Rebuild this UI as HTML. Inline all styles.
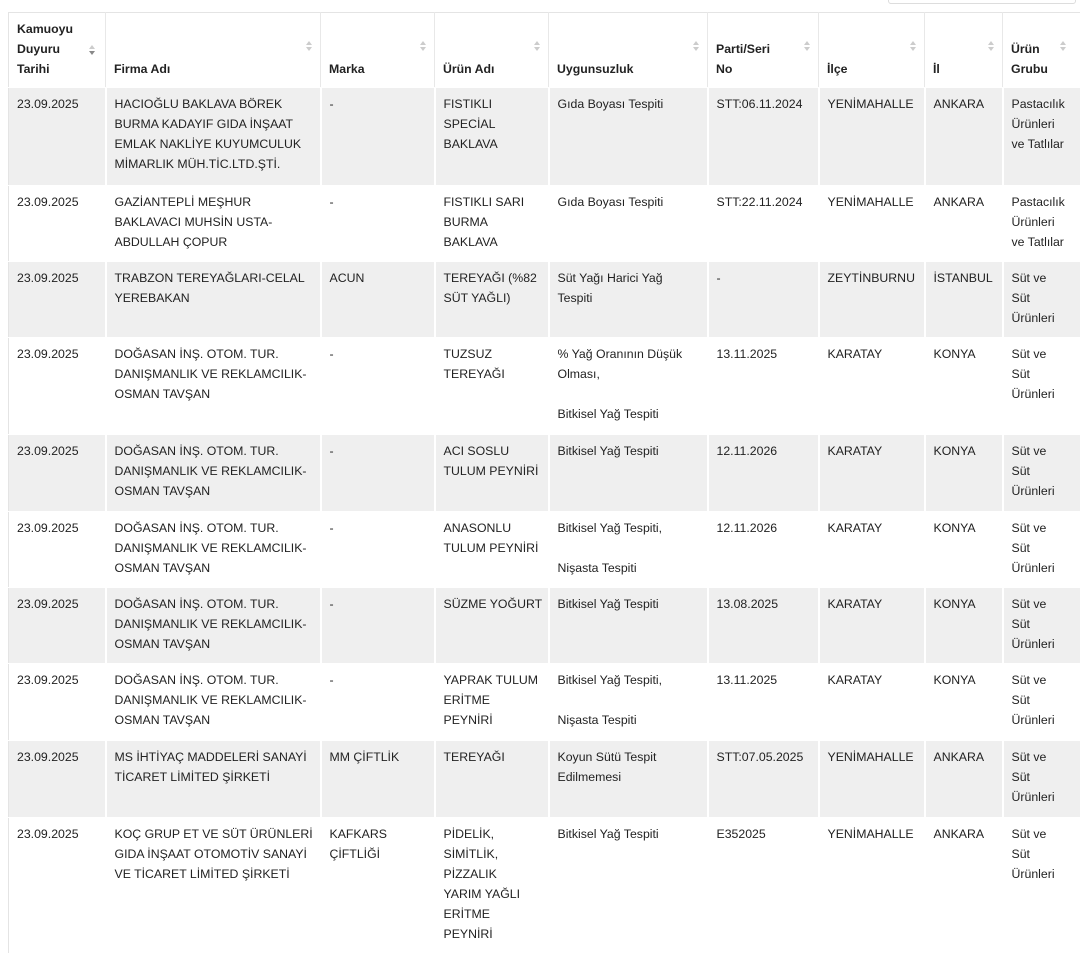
<!DOCTYPE html>
<html><head><meta charset="utf-8"><style>
body{margin:0;width:1080px;height:971px;background:#fff;overflow:hidden;position:relative;font-family:"Liberation Sans",sans-serif;color:#222;}
.search{position:absolute;left:888px;top:-8px;width:186px;height:10px;border:1px solid #ddd;border-radius:3px;}
table{position:absolute;left:8px;top:12px;border-collapse:collapse;table-layout:fixed;width:1090px;border-top:1px solid #e4e4e4;border-left:1px solid #e4e4e4;border-bottom:1px solid #e4e4e4}
td,th{font-size:12.3px;line-height:20px;padding:6px 8px 0 8px;vertical-align:top;text-align:left;border-right:2px solid #fff;border-bottom:1px solid #fff;letter-spacing:0;white-space:nowrap;overflow:hidden}
th{vertical-align:bottom;padding-bottom:8px;font-weight:bold;position:relative;background:#fff;color:#222;border-right:1px solid #e8e8e8}
th .s{position:absolute;right:8px;top:28px;width:6px;height:12px;}
th .s:before{content:"";position:absolute;left:0;top:0;border:3px solid transparent;border-bottom:4px solid #ccc;border-top:0}
th .s:after{content:"";position:absolute;left:0;top:6px;border:3px solid transparent;border-top:4px solid #ccc;border-bottom:0}
th .d:after{border-top-color:#888}
tr.g td{background:#efefef}
</style></head><body>
<div class="search"></div>
<table>
<colgroup><col style="width:97px"><col style="width:215px"><col style="width:114px"><col style="width:114px"><col style="width:159px"><col style="width:111px"><col style="width:106px"><col style="width:78px"><col style="width:96px"></colgroup>
<tr style="height:73px"><th>Kamuoyu<br>Duyuru<br>Tarihi<span class="s d" style="right:10px;top:32px"></span></th><th>Firma Adı<span class="s"></span></th><th>Marka<span class="s"></span></th><th>Ürün Adı<span class="s"></span></th><th>Uygunsuzluk<span class="s"></span></th><th>Parti/Seri<br>No<span class="s"></span></th><th>İlçe<span class="s"></span></th><th>İl<span class="s"></span></th><th>Ürün<br>Grubu<span class="s" style="right:32px"></span></th></tr>
<tr class="g" style="height:98px"><td>23.09.2025</td><td>HACIOĞLU BAKLAVA BÖREK<br>BURMA KADAYIF GIDA İNŞAAT<br>EMLAK NAKLİYE KUYUMCULUK<br>MİMARLIK MÜH.TİC.LTD.ŞTİ.</td><td>-</td><td>FISTIKLI<br>SPECİAL<br>BAKLAVA</td><td>Gıda Boyası Tespiti</td><td>STT:06.11.2024</td><td>YENİMAHALLE</td><td>ANKARA</td><td>Pastacılık<br>Ürünleri<br>ve Tatlılar</td></tr>
<tr style="height:76px"><td>23.09.2025</td><td>GAZİANTEPLİ MEŞHUR<br>BAKLAVACI MUHSİN USTA-<br>ABDULLAH ÇOPUR</td><td>-</td><td>FISTIKLI SARI<br>BURMA<br>BAKLAVA</td><td>Gıda Boyası Tespiti</td><td>STT:22.11.2024</td><td>YENİMAHALLE</td><td>ANKARA</td><td>Pastacılık<br>Ürünleri<br>ve Tatlılar</td></tr>
<tr class="g" style="height:76px"><td>23.09.2025</td><td>TRABZON TEREYAĞLARI-CELAL<br>YEREBAKAN</td><td>ACUN</td><td>TEREYAĞI (%82<br>SÜT YAĞLI)</td><td>Süt Yağı Harici Yağ<br>Tespiti</td><td>-</td><td>ZEYTİNBURNU</td><td>İSTANBUL</td><td>Süt ve<br>Süt<br>Ürünleri</td></tr>
<tr style="height:97px"><td>23.09.2025</td><td>DOĞASAN İNŞ. OTOM. TUR.<br>DANIŞMANLIK VE REKLAMCILIK-<br>OSMAN TAVŞAN</td><td>-</td><td>TUZSUZ<br>TEREYAĞI</td><td>% Yağ Oranının Düşük<br>Olması,<br><br>Bitkisel Yağ Tespiti</td><td>13.11.2025</td><td>KARATAY</td><td>KONYA</td><td>Süt ve<br>Süt<br>Ürünleri</td></tr>
<tr class="g" style="height:77px"><td>23.09.2025</td><td>DOĞASAN İNŞ. OTOM. TUR.<br>DANIŞMANLIK VE REKLAMCILIK-<br>OSMAN TAVŞAN</td><td>-</td><td>ACI SOSLU<br>TULUM PEYNİRİ</td><td>Bitkisel Yağ Tespiti</td><td>12.11.2026</td><td>KARATAY</td><td>KONYA</td><td>Süt ve<br>Süt<br>Ürünleri</td></tr>
<tr style="height:76px"><td>23.09.2025</td><td>DOĞASAN İNŞ. OTOM. TUR.<br>DANIŞMANLIK VE REKLAMCILIK-<br>OSMAN TAVŞAN</td><td>-</td><td>ANASONLU<br>TULUM PEYNİRİ</td><td>Bitkisel Yağ Tespiti,<br><br>Nişasta Tespiti</td><td>12.11.2026</td><td>KARATAY</td><td>KONYA</td><td>Süt ve<br>Süt<br>Ürünleri</td></tr>
<tr class="g" style="height:76px"><td>23.09.2025</td><td>DOĞASAN İNŞ. OTOM. TUR.<br>DANIŞMANLIK VE REKLAMCILIK-<br>OSMAN TAVŞAN</td><td>-</td><td>SÜZME YOĞURT</td><td>Bitkisel Yağ Tespiti</td><td>13.08.2025</td><td>KARATAY</td><td>KONYA</td><td>Süt ve<br>Süt<br>Ürünleri</td></tr>
<tr style="height:77px"><td>23.09.2025</td><td>DOĞASAN İNŞ. OTOM. TUR.<br>DANIŞMANLIK VE REKLAMCILIK-<br>OSMAN TAVŞAN</td><td>-</td><td>YAPRAK TULUM<br>ERİTME<br>PEYNİRİ</td><td>Bitkisel Yağ Tespiti,<br><br>Nişasta Tespiti</td><td>13.11.2025</td><td>KARATAY</td><td>KONYA</td><td>Süt ve<br>Süt<br>Ürünleri</td></tr>
<tr class="g" style="height:77px"><td>23.09.2025</td><td>MS İHTİYAÇ MADDELERİ SANAYİ<br>TİCARET LİMİTED ŞİRKETİ</td><td>MM ÇİFTLİK</td><td>TEREYAĞI</td><td>Koyun Sütü Tespit<br>Edilmemesi</td><td>STT:07.05.2025</td><td>YENİMAHALLE</td><td>ANKARA</td><td>Süt ve<br>Süt<br>Ürünleri</td></tr>
<tr style="height:136px"><td>23.09.2025</td><td>KOÇ GRUP ET VE SÜT ÜRÜNLERİ<br>GIDA İNŞAAT OTOMOTİV SANAYİ<br>VE TİCARET LİMİTED ŞİRKETİ</td><td>KAFKARS<br>ÇİFTLİĞİ</td><td>PİDELİK,<br>SİMİTLİK,<br>PİZZALIK<br>YARIM YAĞLI<br>ERİTME<br>PEYNİRİ</td><td>Bitkisel Yağ Tespiti</td><td>E352025</td><td>YENİMAHALLE</td><td>ANKARA</td><td>Süt ve<br>Süt<br>Ürünleri</td></tr>
</table>
</body></html>
